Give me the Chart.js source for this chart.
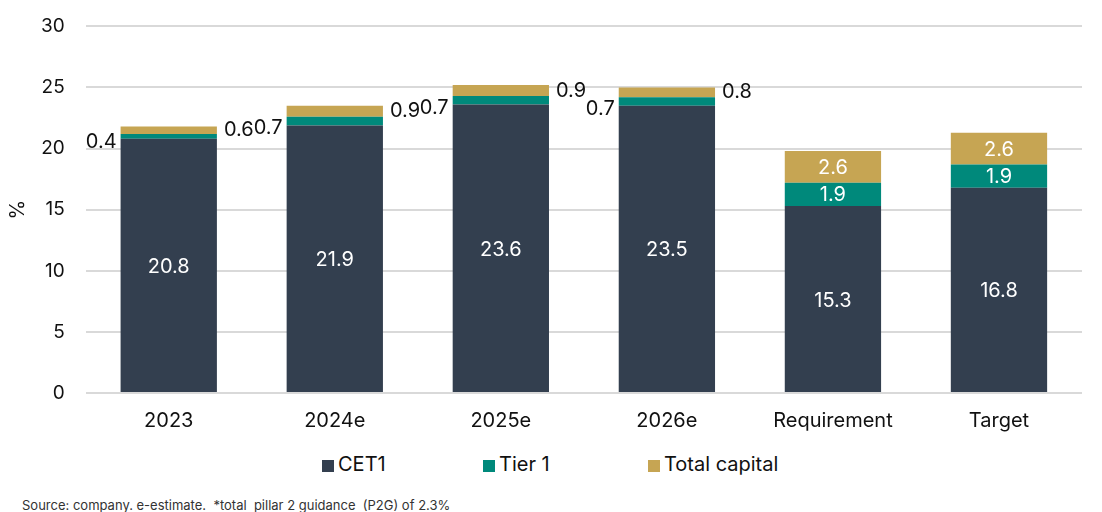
<!DOCTYPE html>
<html>
<head>
<meta charset="utf-8">
<script src="https://cdn.jsdelivr.net/npm/chart.js@4.4.1/dist/chart.umd.min.js"></script>
<style>
  html, body { margin: 0; padding: 0; background: #fff; }
  #wrap { position: relative; width: 1102px; height: 512px; overflow: hidden; font-family: Inter, "Noto Sans", sans-serif; }
  #capitalChart { position: absolute; left: 0; top: -6px; }
  .leg { position: absolute; top: 452px; font-size: 20px; color: #111; line-height: 24px; white-space: nowrap; }
  .leg i { display: inline-block; width: 12px; height: 12px; margin-right: 4px; vertical-align: -1px; }
  #source { position: absolute; left: 22px; top: 497px; font-size: 13px; color: #333; white-space: nowrap; }
</style>
</head>
<body>
<div id="wrap">
  <canvas id="capitalChart" width="1102" height="449"></canvas>
  <div class="leg" style="left:322px"><i style="background:#333f4f"></i>CET1</div>
  <div class="leg" style="left:483px"><i style="background:#00897b"></i>Tier 1</div>
  <div class="leg" style="left:648px"><i style="background:#c6a553"></i>Total capital</div>
  <div id="source">Source: company. e-estimate. &nbsp;*total &nbsp;pillar 2 guidance &nbsp;(P2G) of 2.3%</div>
</div>
<script>
// カテゴリと系列
const categories = ['2023', '2024e', '2025e', '2026e', 'Requirement', 'Target'];
const cet1 = [20.8, 21.9, 23.6, 23.5, 15.3, 16.8];
const tier1 = [0.4, 0.7, 0.7, 0.7, 1.9, 1.9];
const totalCapital = [0.6, 0.9, 0.9, 0.8, 2.6, 2.6];
const yTicks = [0, 5, 10, 15, 20, 25, 30];
const yTitle = '%';

const FONT = 'Inter, "Noto Sans", sans-serif';

// 値ラベル（小さい区間は棒の外側に描く）
const valueLabels = {
    id: 'valueLabels',
    afterDatasetsDraw(chart) {
        const ctx = chart.ctx;
        const y = chart.scales.y;
        ctx.save();
        ctx.font = '20px ' + FONT;
        chart.data.datasets.forEach((ds, di) => {
            const meta = chart.getDatasetMeta(di);
            meta.data.forEach((bar, i) => {
                const v = ds.data[i];
                let base = 0;
                for (let k = 0; k < di; k++) base += chart.data.datasets[k].data[i];
                const half = bar.width / 2;
                ctx.textBaseline = 'middle';
                if (v >= 1.5) {
                    ctx.fillStyle = '#ffffff';
                    ctx.textAlign = 'center';
                    ctx.fillText(v.toFixed(1), bar.x, y.getPixelForValue(base + v / 2) + 1);
                } else if (di === 1) {
                    ctx.fillStyle = '#111111';
                    ctx.textAlign = 'right';
                    ctx.fillText(v.toFixed(1), bar.x - half - 4, y.getPixelForValue(base) + 3);
                } else {
                    ctx.fillStyle = '#111111';
                    ctx.textAlign = 'left';
                    ctx.fillText(v.toFixed(1), bar.x + half + 7, y.getPixelForValue(base + v / 2));
                }
            });
        });
        // Y軸タイトル
        const area = chart.chartArea;
        ctx.translate(18, (area.top + area.bottom) / 2);
        ctx.rotate(-Math.PI / 2);
        ctx.fillStyle = '#111111';
        ctx.textAlign = 'center';
        ctx.textBaseline = 'middle';
        ctx.fillText(yTitle, 0, 0);
        ctx.restore();
    }
};

const ctx = document.getElementById('capitalChart').getContext('2d');
const chart = new Chart(ctx, {
    type: 'bar',
    data: {
        labels: categories,
        datasets: [
            { label: 'CET1', data: cet1, backgroundColor: '#333f4f' },
            { label: 'Tier 1', data: tier1, backgroundColor: '#00897b' },
            { label: 'Total capital', data: totalCapital, backgroundColor: '#c6a553' }
        ]
    },
    options: {
        responsive: false,
        animation: false,
        layout: { padding: { left: 20, right: 20, top: 0, bottom: 2 } },
        datasets: {
            bar: { barPercentage: 0.58, categoryPercentage: 1, borderWidth: 0 }
        },
        scales: {
            x: {
                stacked: true,
                grid: { display: false },
                border: { display: false },
                ticks: { color: '#111', font: { family: FONT, size: 20 }, padding: 8 }
            },
            y: {
                stacked: true,
                min: 0,
                max: 30,
                afterBuildTicks: (axis) => { axis.ticks = yTicks.map(v => ({ value: v })); },
                grid: { color: '#d9d9d9', lineWidth: 2, drawTicks: false },
                border: { display: false },
                ticks: { color: '#111', font: { family: FONT, size: 19 }, padding: 21 }
            }
        },
        plugins: {
            legend: { display: false },
            tooltip: { enabled: false }
        }
    },
    plugins: [valueLabels]
});
</script>
</body>
</html>
